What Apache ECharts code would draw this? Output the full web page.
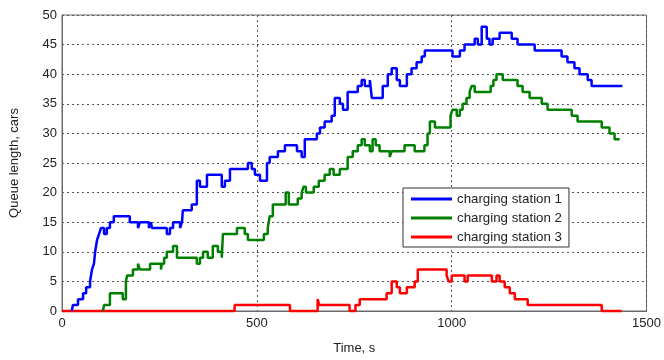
<!DOCTYPE html>
<html>
<head>
<meta charset="utf-8">
<script src="https://cdn.jsdelivr.net/npm/echarts@6/dist/echarts.min.js"></script>
<style>
html,body{margin:0;padding:0;background:#fff;}
#chart{width:664px;height:360px;}
</style>
</head>
<body>
<div id="chart"></div>
<script>
// Tick labels
var xTicks = [0, 500, 1000, 1500];
var yTicks = [0, 5, 10, 15, 20, 25, 30, 35, 40, 45, 50];

// Series names
var seriesNames = ['charging station 1', 'charging station 2', 'charging station 3'];

// Station 1: time (s) at which queue changes, and new queue length
var s1Time = [25, 28, 41, 54, 62, 72, 77, 82, 85, 90, 95, 100, 108, 115, 123, 133, 174, 195, 200, 223, 228, 231, 269, 277, 285, 303, 308, 310, 333, 346, 354, 372, 410, 418, 431, 477, 487, 495, 508, 526, 533, 554, 572, 603, 615, 623, 654, 662, 674, 692, 700, 713, 721, 733, 759, 769, 777, 790, 795, 823, 836, 846, 859, 867, 885, 897, 910, 923, 931, 1002, 1021, 1033, 1059, 1067, 1077, 1090, 1097, 1105, 1123, 1154, 1169, 1213, 1282, 1297, 1315, 1328, 1341, 1349, 1359, 1438];
var s1Queue = [0, 1, 2, 3, 4, 5, 7, 8, 10, 12, 13, 14, 13, 14, 15, 16, 15, 14, 15, 14, 15, 14, 13, 14, 15, 14, 15, 17, 18, 22, 21, 23, 21, 22, 24, 25, 24, 23, 22, 25, 26, 27, 28, 27, 26, 29, 30, 31, 32, 33, 36, 35, 34, 37, 38, 39, 38, 39, 36, 38, 40, 41, 39, 38, 40, 41, 42, 43, 44, 43, 44, 45, 46, 45, 48, 46, 45, 46, 47, 46, 45, 44, 43, 42, 41, 40, 40, 39, 38, 38];

// Station 2
var s2Time = [105, 108, 123, 156, 164, 167, 182, 195, 200, 226, 254, 256, 262, 269, 285, 295, 346, 354, 362, 374, 387, 400, 410, 413, 449, 469, 477, 518, 528, 533, 541, 574, 582, 605, 615, 620, 626, 646, 659, 674, 687, 697, 713, 733, 746, 759, 769, 777, 790, 797, 805, 815, 841, 846, 879, 905, 930, 938, 944, 957, 997, 1002, 1013, 1021, 1028, 1038, 1046, 1051, 1059, 1100, 1107, 1115, 1131, 1169, 1182, 1200, 1231, 1246, 1308, 1323, 1385, 1405, 1418, 1431];
var s2Queue = [0, 1, 3, 2, 5, 6, 7, 8, 7, 8, 7, 8, 9, 10, 11, 9, 8, 9, 10, 9, 11, 10, 9, 13, 14, 13, 12, 13, 14, 16, 18, 20, 18, 19, 20, 21, 20, 21, 22, 23, 24, 23, 24, 26, 27, 28, 29, 28, 27, 29, 28, 27, 26, 27, 28, 27, 28, 30, 32, 31, 33, 34, 33, 34, 35, 36, 37, 38, 37, 38, 39, 40, 39, 38, 37, 36, 35, 34, 33, 32, 31, 30, 29, 29];

// Station 3
var s3Time = [0, 443, 585, 656, 660, 738, 753, 764, 833, 846, 859, 867, 885, 905, 913, 987, 992, 1000, 1033, 1041, 1103, 1115, 1123, 1136, 1149, 1162, 1195, 1385, 1436];
var s3Queue = [0, 1, 0, 2, 1, 0, 1, 2, 3, 5, 4, 3, 4, 5, 7, 6, 5, 6, 5, 6, 5, 6, 5, 4, 3, 2, 1, 0, 0];

var colors = ['#0000ff', '#008000', '#ff0000'];

function pairs(t, v) {
  var out = [];
  for (var i = 0; i < t.length; i++) out.push([t[i], v[i]]);
  return out;
}

var font = 'Liberation Sans, Arial, sans-serif';
var chart = echarts.init(document.getElementById('chart'), null, {renderer: 'canvas'});
var grid = {left: 62, top: 15, right: 16, bottom: 48, show: true, borderColor: '#6a6a6a', borderWidth: 1, backgroundColor: '#fff'};
var split = {show: true, lineStyle: {type: [2, 3], color: '#555', width: 1}};

var datasets = [pairs(s1Time, s1Queue), pairs(s2Time, s2Queue), pairs(s3Time, s3Queue)];

chart.setOption({
  animation: false,
  backgroundColor: '#fff',
  grid: grid,
  legend: {
    orient: 'vertical',
    left: 403, top: 188,
    padding: [4, 7, 3, 8],
    itemWidth: 41, itemHeight: 3, itemGap: 5,
    icon: 'rect',
    borderColor: '#333', borderWidth: 1,
    backgroundColor: '#fff',
    textStyle: {fontFamily: font, fontSize: 13.3, color: '#222', lineHeight: 14, padding: [0, 0, 0, 0]},
    data: seriesNames
  },
  xAxis: {
    type: 'value', min: xTicks[0], max: xTicks[xTicks.length - 1], interval: 500,
    name: 'Time, s', nameLocation: 'middle', nameGap: 31,
    nameTextStyle: {fontFamily: font, fontSize: 13, color: '#222'},
    axisLine: {show: true, onZero: false, lineStyle: {color: '#6a6a6a', width: 1}},
    axisTick: {show: false},
    axisLabel: {fontFamily: font, fontSize: 13, color: '#222', margin: 6, formatter: function (v) { return String(v); }},
    splitLine: split
  },
  yAxis: {
    type: 'value', min: yTicks[0], max: yTicks[yTicks.length - 1], interval: 5,
    name: 'Queue length, cars', nameLocation: 'middle', nameGap: 41, nameRotate: 90,
    nameTextStyle: {fontFamily: font, fontSize: 13, color: '#222'},
    axisLine: {show: true, lineStyle: {color: '#6a6a6a', width: 1}},
    axisTick: {show: false},
    axisLabel: {fontFamily: font, fontSize: 13, color: '#222', margin: 5, formatter: function (v) { return String(v); }},
    splitLine: split
  },
  series: seriesNames.map(function (n, i) {
    return {
      name: n, type: 'line', step: 'end', data: datasets[i],
      showSymbol: false, symbol: 'none', z: 10 + (2 - i),
      lineStyle: {color: colors[i], width: 2.5},
      itemStyle: {color: colors[i]},
      clip: false
    };
  })
});
</script>
</body>
</html>
